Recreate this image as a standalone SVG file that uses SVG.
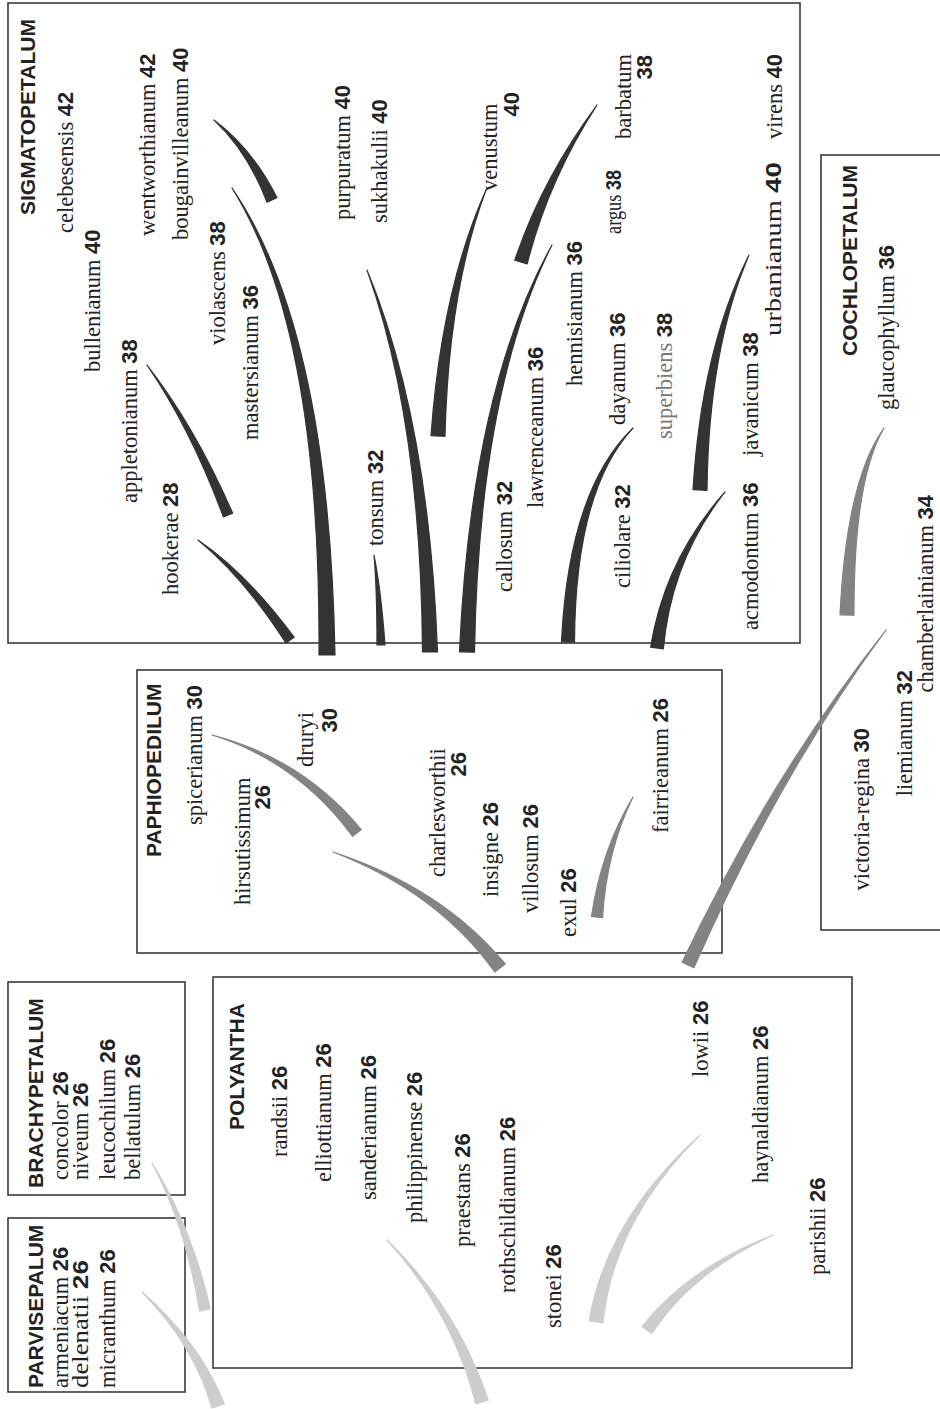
<svg xmlns="http://www.w3.org/2000/svg" width="940" height="1409" viewBox="0 0 940 1409">
<style>
.box{fill:none;stroke:#3a3a3a;stroke-width:1.6}
.t{font-family:"Liberation Serif",serif;font-size:22.5px;fill:#222}
.n{font-family:"Liberation Sans",sans-serif;font-weight:bold;font-size:22px;fill:#222}
.h{font-family:"Liberation Sans",sans-serif;font-weight:bold;font-size:21px;fill:#222}
.e{text-anchor:end}
.dk{fill:#333;stroke:#333;stroke-width:1.2;stroke-linejoin:round}
.md{fill:#838383;stroke:#838383;stroke-width:1.2;stroke-linejoin:round}
.lt{fill:#cdcdcd;stroke:#cdcdcd;stroke-width:1.2;stroke-linejoin:round}
</style>
<rect width="940" height="1409" fill="#fff"/>

<g id="sigmatopetalum">
<rect class="box" x="8" y="3" width="792" height="640"/>
<text class="h" x="35" y="215" transform="rotate(-90 35 215)">SIGMATOPETALUM</text>
<text class="t" x="73" y="233" transform="rotate(-90 73 233)">celebesensis <tspan class="n">42</tspan></text>
<text class="t" x="100" y="372" transform="rotate(-90 100 372)">bullenianum <tspan class="n">40</tspan></text>
<text class="t" x="155" y="236" transform="rotate(-90 155 236)">wentworthianum <tspan class="n">42</tspan></text>
<text class="t" x="188" y="240" transform="rotate(-90 188 240)">bougainvilleanum <tspan class="n">40</tspan></text>
<text class="t" x="137" y="503" transform="rotate(-90 137 503)">appletonianum <tspan class="n">38</tspan></text>
<text class="t" x="178" y="595" transform="rotate(-90 178 595)">hookerae <tspan class="n">28</tspan></text>
<text class="t" x="225" y="345" transform="rotate(-90 225 345)">violascens <tspan class="n">38</tspan></text>
<text class="t" x="258" y="440" transform="rotate(-90 258 440)">mastersianum <tspan class="n">36</tspan></text>
<text class="t" x="350" y="220" transform="rotate(-90 350 220)">purpuratum <tspan class="n">40</tspan></text>
<text class="t" x="387" y="223" transform="rotate(-90 387 223)">sukhakulii <tspan class="n">40</tspan></text>
<text class="t" x="383" y="546" transform="rotate(-90 383 546)">tonsum <tspan class="n">32</tspan></text>
<text class="t" x="497" y="191" transform="rotate(-90 497 191)">venustum</text>
<text class="n e" x="519" y="92" transform="rotate(-90 519 92)">40</text>
<text class="t" x="512" y="592" transform="rotate(-90 512 592)">callosum <tspan class="n">32</tspan></text>
<text class="t" x="543" y="508" transform="rotate(-90 543 508)">lawrenceanum <tspan class="n">36</tspan></text>
<text class="t" x="582" y="386" transform="rotate(-90 582 386)">hennisianum <tspan class="n">36</tspan></text>
<text class="t" x="621" y="234" transform="rotate(-90 621 234)" textLength="64" lengthAdjust="spacingAndGlyphs">argus <tspan class="n">38</tspan></text>
<text class="t" x="625" y="425" transform="rotate(-90 625 425)">dayanum <tspan class="n">36</tspan></text>
<text class="t" x="631" y="139" transform="rotate(-90 631 139)">barbatum</text>
<text class="n e" x="652" y="55" transform="rotate(-90 652 55)">38</text>
<text class="t" x="672" y="439" transform="rotate(-90 672 439)"><tspan fill="#777">superbiens</tspan> <tspan class="n">38</tspan></text>
<text class="t" x="630" y="588" transform="rotate(-90 630 588)">ciliolare <tspan class="n">32</tspan></text>
<text class="t" x="758" y="630" transform="rotate(-90 758 630)">acmodontum <tspan class="n">36</tspan></text>
<text class="t" x="758" y="456" transform="rotate(-90 758 456)">javanicum <tspan class="n">38</tspan></text>
<text class="t" x="781" y="336" transform="rotate(-90 781 336)" textLength="174" lengthAdjust="spacingAndGlyphs">urbanianum <tspan class="n">40</tspan></text>
<text class="t" x="782" y="139" transform="rotate(-90 782 139)">virens <tspan class="n">40</tspan></text>
</g>

<g id="paphiopedilum">
<rect class="box" x="137" y="670" width="585" height="283"/>
<text class="h" x="161" y="857" transform="rotate(-90 161 857)">PAPHIOPEDILUM</text>
<text class="t" x="202" y="825" transform="rotate(-90 202 825)">spicerianum <tspan class="n">30</tspan></text>
<text class="t" x="250" y="905" transform="rotate(-90 250 905)">hirsutissimum</text>
<text class="n e" x="270" y="785" transform="rotate(-90 270 785)">26</text>
<text class="t" x="313" y="767" transform="rotate(-90 313 767)">druryi</text>
<text class="n e" x="337" y="708" transform="rotate(-90 337 708)">30</text>
<text class="t" x="445" y="877" transform="rotate(-90 445 877)">charlesworthii</text>
<text class="n e" x="466" y="752" transform="rotate(-90 466 752)">26</text>
<text class="t" x="498" y="897" transform="rotate(-90 498 897)">insigne <tspan class="n">26</tspan></text>
<text class="t" x="538" y="913" transform="rotate(-90 538 913)">villosum <tspan class="n">26</tspan></text>
<text class="t" x="576" y="937" transform="rotate(-90 576 937)">exul <tspan class="n">26</tspan></text>
<text class="t" x="668" y="833" transform="rotate(-90 668 833)">fairrieanum <tspan class="n">26</tspan></text>
</g>

<g id="cochlopetalum">
<rect class="box" x="821" y="155" width="131" height="775"/>
<text class="h e" x="857" y="165" transform="rotate(-90 857 165)">COCHLOPETALUM</text>
<text class="t e" x="894" y="245" transform="rotate(-90 894 245)">glaucophyllum <tspan class="n">36</tspan></text>
<text class="t e" x="933" y="495" transform="rotate(-90 933 495)">chamberlainianum <tspan class="n">34</tspan></text>
<text class="t e" x="912" y="670" transform="rotate(-90 912 670)">liemianum <tspan class="n">32</tspan></text>
<text class="t e" x="869" y="728" transform="rotate(-90 869 728)">victoria-regina <tspan class="n">30</tspan></text>
</g>

<g id="brachypetalum">
<rect class="box" x="8" y="982" width="177" height="213"/>
<text class="h" x="43" y="1188" transform="rotate(-90 43 1188)">BRACHYPETALUM</text>
<text class="t" x="68" y="1180" transform="rotate(-90 68 1180)">concolor <tspan class="n">26</tspan></text>
<text class="t" x="88" y="1180" transform="rotate(-90 88 1180)">niveum <tspan class="n">26</tspan></text>
<text class="t" x="115" y="1180" transform="rotate(-90 115 1180)">leucochilum <tspan class="n">26</tspan></text>
<text class="t" x="140" y="1180" transform="rotate(-90 140 1180)">bellatulum <tspan class="n">26</tspan></text>
</g>

<g id="parvisepalum">
<rect class="box" x="8" y="1218" width="177" height="174"/>
<text class="h" x="43" y="1388" transform="rotate(-90 43 1388)">PARVISEPALUM</text>
<text class="t" x="68" y="1388" transform="rotate(-90 68 1388)">armeniacum <tspan class="n">26</tspan></text>
<text class="t" x="88" y="1388" transform="rotate(-90 88 1388)" textLength="128" lengthAdjust="spacingAndGlyphs">delenatii <tspan class="n">26</tspan></text>
<text class="t" x="115" y="1388" transform="rotate(-90 115 1388)">micranthum <tspan class="n">26</tspan></text>
</g>

<g id="polyantha">
<rect class="box" x="213" y="977" width="639" height="391"/>
<text class="h" x="244" y="1130" transform="rotate(-90 244 1130)">POLYANTHA</text>
<text class="t" x="287" y="1157" transform="rotate(-90 287 1157)">randsii <tspan class="n">26</tspan></text>
<text class="t" x="331" y="1182" transform="rotate(-90 331 1182)">elliottianum <tspan class="n">26</tspan></text>
<text class="t" x="376" y="1200" transform="rotate(-90 376 1200)">sanderianum <tspan class="n">26</tspan></text>
<text class="t" x="422" y="1223" transform="rotate(-90 422 1223)">philippinense <tspan class="n">26</tspan></text>
<text class="t" x="470" y="1247" transform="rotate(-90 470 1247)">praestans <tspan class="n">26</tspan></text>
<text class="t" x="515" y="1293" transform="rotate(-90 515 1293)">rothschildianum <tspan class="n">26</tspan></text>
<text class="t" x="561" y="1328" transform="rotate(-90 561 1328)">stonei <tspan class="n">26</tspan></text>
<text class="t" x="708" y="1077" transform="rotate(-90 708 1077)">lowii <tspan class="n">26</tspan></text>
<text class="t" x="768" y="1183" transform="rotate(-90 768 1183)">haynaldianum <tspan class="n">26</tspan></text>
<text class="t" x="825" y="1275" transform="rotate(-90 825 1275)">parishii <tspan class="n">26</tspan></text>
</g>

<g id="connectors">
<path class="dk" d="M198,540 Q242.9,576.4 285.9,642.9 L294.1,637.2 Q247.1,573.6 198,540Z"/>
<path class="dk" d="M147,365 Q190.7,428.9 223.4,516.9 L232.6,513.1 Q195.3,427.1 147,365Z"/>
<path class="dk" d="M214,120 Q247.5,151.1 267,202.2 L277,197.8 Q252.5,148.9 214,120Z"/>
<path class="dk" d="M232,188 Q321,330 319,655 L335,655 Q329,330 232,188Z"/>
<path class="dk" d="M374,555 Q377,590 377,645 L385,645 Q381,590 374,555Z"/>
<path class="dk" d="M367,270 Q421,420 422.5,652 L437.5,652 Q429,420 367,270Z"/>
<path class="dk" d="M486,190 Q441.5,289.8 431,435.7 L445,436.3 Q448.5,290.2 486,190Z"/>
<path class="dk" d="M597,105 Q541.9,179.1 514.8,260.2 L527.2,263.8 Q548.1,180.9 597,105Z"/>
<path class="dk" d="M552,245 Q471.2,389.9 459.5,651.8 L474.5,652.2 Q478.8,390.1 552,245Z"/>
<path class="dk" d="M633,428 Q568.8,489.9 561.5,641.8 L574.5,642.2 Q575.2,490.1 633,428Z"/>
<path class="dk" d="M749,255 Q701.5,349.9 693,489.7 L707,490.3 Q708.5,350.1 749,255Z"/>
<path class="dk" d="M725,492 Q664.8,559.6 650.6,647.2 L663.4,648.8 Q671.2,560.4 725,492Z"/>
<path class="md" d="M212,735 Q297.8,761.7 352.7,836.4 L361.3,829.6 Q302.2,758.3 212,735Z"/>
<path class="md" d="M333,852 Q437.4,892 494.8,972 L505.2,964 Q442.6,888 333,852Z"/>
<path class="md" d="M633,797 Q601.3,849.7 591.5,916.4 L602.5,917.6 Q606.7,850.3 633,797Z"/>
<path class="md" d="M886,630 Q772,773.6 682.1,962.3 L693.9,967.7 Q778,776.4 886,630Z"/>
<path class="md" d="M884,428 Q846.5,479.9 840,614.8 L854,615.2 Q853.5,480.1 884,428Z"/>
<path class="lt" d="M700,1135 Q606.5,1219.5 589.1,1321 L602.9,1323 Q613.5,1220.5 700,1135Z"/>
<path class="lt" d="M773,1235 Q687.6,1268.3 642.1,1326.5 L651.9,1333.5 Q692.4,1271.8 773,1235Z"/>
<path class="lt" d="M387,1240 Q451.9,1310.9 475.8,1403.8 L488.2,1400.2 Q458.1,1309.1 387,1240Z"/>
<path class="lt" d="M152,1163 Q185.3,1225.5 199.6,1311.1 L210.4,1308.9 Q190.7,1224.5 152,1163Z"/>
<path class="lt" d="M142,1292 Q194.9,1346 211.8,1408 L224.2,1404 Q201.1,1344 142,1292Z"/>
</g>
</svg>
